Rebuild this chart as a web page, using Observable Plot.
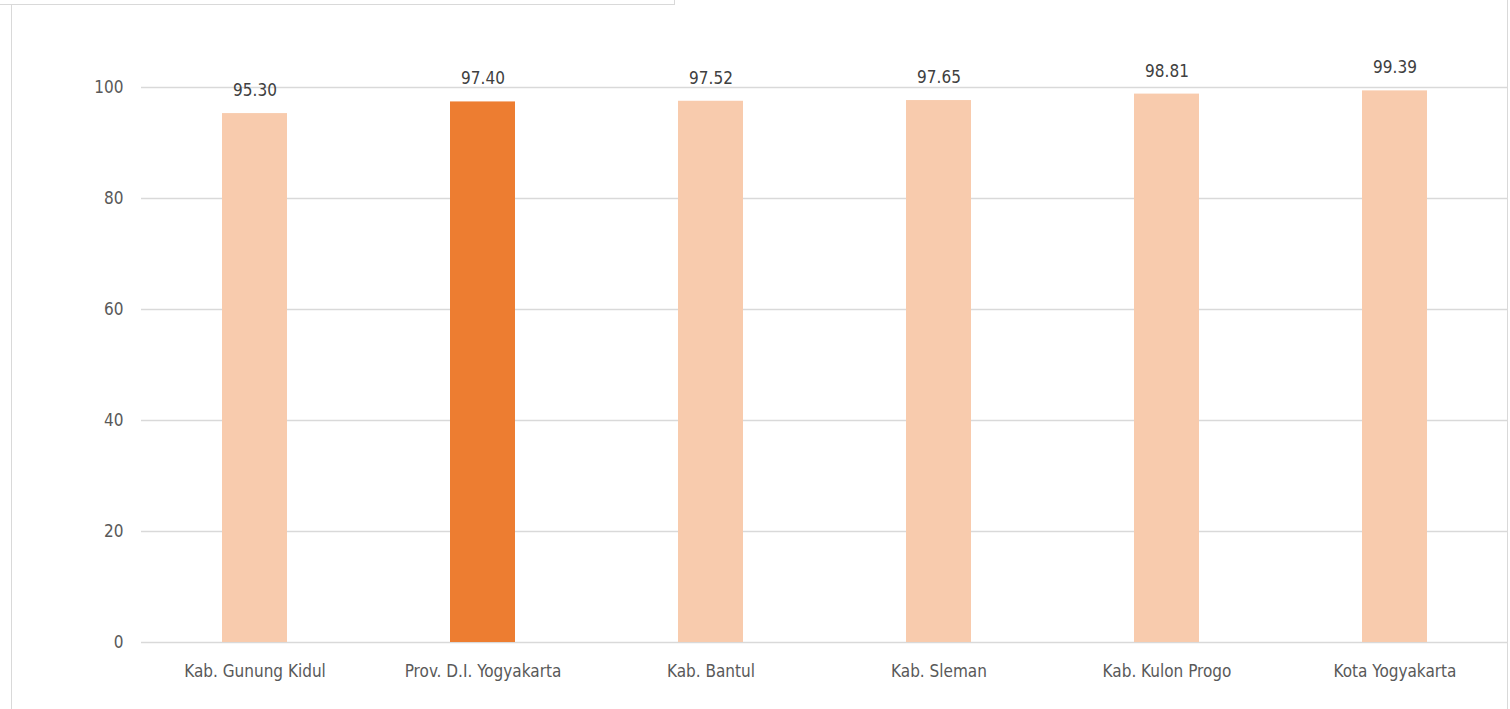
<!DOCTYPE html>
<html>
<head>
<meta charset="utf-8">
<script src="https://cdn.jsdelivr.net/npm/d3@7"></script>
<script src="https://cdn.jsdelivr.net/npm/@observablehq/plot@0.6"></script>
<style>
  html, body { margin: 0; padding: 0; background: #fff; }
  #wrap { position: relative; width: 1510px; height: 709px; overflow: hidden; }
  #frame { position: absolute; left: 11px; top: 0; width: 1497px; height: 709px;
           border-left: 1px solid #d9d9d9; border-right: 1px solid #d9d9d9; box-sizing: border-box; pointer-events: none; }
  #topbox { position: absolute; left: 0; top: 0; width: 675px; height: 5px;
            border-bottom: 1px solid #d9d9d9; border-right: 1px solid #d9d9d9; box-sizing: border-box; background: #fff; }
  #chart { position: absolute; left: 0; top: 0; }
</style>
</head>
<body>
<div id="wrap">
  <div id="chart"></div>
  <div id="frame"></div>
  <div id="topbox"></div>
</div>
<script>
const categories = ["Kab. Gunung Kidul", "Prov. D.I. Yogyakarta", "Kab. Bantul", "Kab. Sleman", "Kab. Kulon Progo", "Kota Yogyakarta"];
const values = [95.30, 97.40, 97.52, 97.65, 98.81, 99.39];
const highlighted = ["Prov. D.I. Yogyakarta"];
const yTicks = [0, 20, 40, 60, 80, 100];

const data = categories.map((c, i) => ({name: c, value: values[i], hi: highlighted.includes(c)}));

const font = "'DejaVu Sans Condensed', 'Liberation Sans Narrow', sans-serif";

const chart = Plot.plot({
  width: 1510,
  height: 709,
  marginLeft: 141,
  marginRight: 3,
  marginTop: 87,
  marginBottom: 67,
  style: {fontFamily: font, fontSize: "17px", color: "#595959", background: "transparent"},
  x: {domain: categories, paddingInner: 0.715, paddingOuter: 0.3505, align: 0.5, label: null, tickSize: 0, tickPadding: 22},
  y: {domain: [0, 100], ticks: yTicks, label: null, tickSize: 0, tickPadding: 18, grid: false},
  marks: [
    Plot.gridY(yTicks, {stroke: "#d9d9d9", strokeOpacity: 1, strokeWidth: 1.5}),
    Plot.barY(data, {x: "name", y: "value", fill: d => d.hi ? "#ED7D31" : "#F8CBAD"}),
    Plot.text(data, {x: "name", y: "value", text: d => d.value.toFixed(2), dy: -23, fill: "#404040", fontSize: 17}),
    Plot.axisY({ticks: yTicks, tickSize: 0, tickPadding: 18, label: null, fill: "#595959", fontSize: 17}),
    Plot.axisX({tickSize: 0, tickPadding: 22, label: null, fill: "#595959", fontSize: 17})
  ]
});
document.getElementById("chart").appendChild(chart);
</script>
</body>
</html>
